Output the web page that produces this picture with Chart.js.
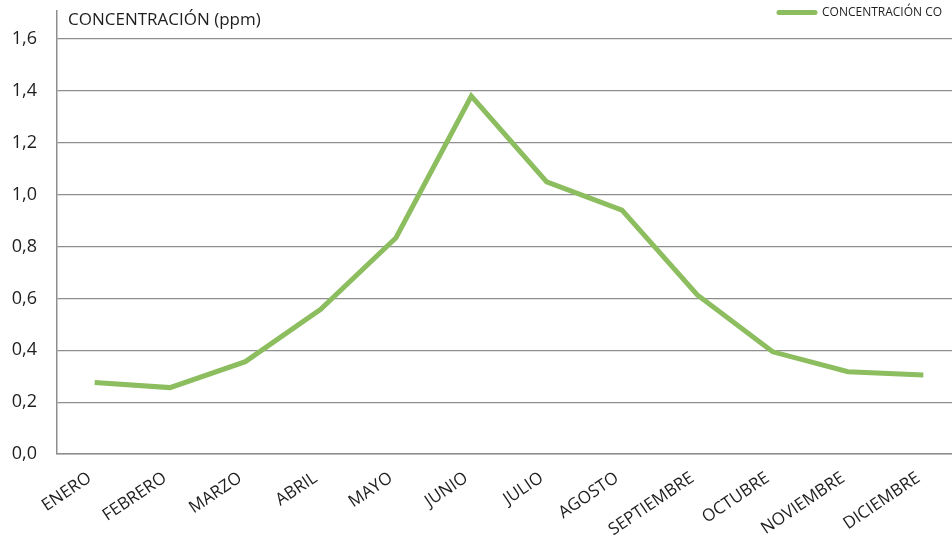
<!DOCTYPE html>
<html lang="es">
<head>
<meta charset="utf-8">
<title>Concentración de CO</title>
<script src="https://cdn.jsdelivr.net/npm/chart.js@4/dist/chart.umd.min.js"></script>
<style>
  html, body { margin: 0; padding: 0; background: #ffffff; overflow: hidden; }
  #wrap { position: relative; width: 952px; height: 547px; overflow: hidden; }
  #box { position: absolute; left: 0; top: 0; width: 961px; height: 547px; }
</style>
</head>
<body>
<div id="wrap"><div id="box"><canvas id="chart"></canvas></div></div>
<script>
// Meses
const months = ['ENERO', 'FEBRERO', 'MARZO', 'ABRIL', 'MAYO', 'JUNIO', 'JULIO',
  'AGOSTO', 'SEPTIEMBRE', 'OCTUBRE', 'NOVIEMBRE', 'DICIEMBRE'];
// Concentración media mensual de CO (ppm)
const coValues = [0.276, 0.256, 0.356, 0.558, 0.834, 1.38, 1.049, 0.94, 0.613, 0.394, 0.317, 0.305];
const seriesName = 'CONCENTRACIÓN CO';
const axisTitle = 'CONCENTRACIÓN (ppm)';
const yTickValues = [0, 0.2, 0.4, 0.6, 0.8, 1.0, 1.2, 1.4, 1.6];

const lineColor = '#8cbd5f';
const gridColor = '#8e8e8e';
const textColor = '#1e1e1e';
const font = '"Open Sans", "DejaVu Sans", sans-serif';

// Título del eje Y y leyenda dibujados sobre el lienzo
const annotations = {
  id: 'annotations',
  afterDraw(chart) {
    const ctx = chart.ctx;
    const area = chart.chartArea;
    ctx.save();
    ctx.fillStyle = textColor;
    ctx.font = '17px ' + font;
    ctx.textAlign = 'left';
    ctx.textBaseline = 'middle';
    ctx.fillText(axisTitle, area.left + 11, 20);

    ctx.strokeStyle = lineColor;
    ctx.lineWidth = 5;
    ctx.lineCap = 'round';
    ctx.beginPath();
    ctx.moveTo(779, 12.5);
    ctx.lineTo(815, 12.5);
    ctx.stroke();
    ctx.font = '12px ' + font;
    ctx.fillText(seriesName, 822, 13);
    ctx.restore();
  }
};

new Chart(document.getElementById('chart'), {
  type: 'line',
  data: {
    labels: months,
    datasets: [{
      label: seriesName,
      data: coValues,
      borderColor: lineColor,
      borderWidth: 5,
      pointRadius: 0,
      tension: 0,
      fill: false
    }]
  },
  options: {
    responsive: true,
    maintainAspectRatio: false,
    animation: false,
    layout: { padding: { top: 11, right: 0, bottom: 0, left: 0 } },
    plugins: { legend: { display: false }, tooltip: { enabled: false } },
    scales: {
      x: {
        offset: true,
        grid: { display: false, drawTicks: false },
        border: { display: true, color: gridColor, width: 1.5 },
        ticks: {
          color: textColor,
          font: { family: font, size: 17 },
          minRotation: 34,
          maxRotation: 34,
          padding: 14,
          labelOffset: -5,
          autoSkip: false
        },
        afterFit(scale) {
          scale.height = 93;
          scale.paddingLeft = 0;
          scale.paddingRight = 0;
        }
      },
      y: {
        min: 0,
        max: 1.708,
        grid: { color: gridColor, lineWidth: 1.2, drawTicks: false },
        border: { display: true, color: gridColor, width: 1.5 },
        ticks: {
          stepSize: 0.2,
          color: textColor,
          padding: 20,
          font: { family: font, size: 18 },
          callback: (v) => v.toFixed(1).replace('.', ',')
        },
        afterBuildTicks(scale) {
          scale.ticks = yTickValues.map(v => ({ value: v }));
        },
        afterFit(scale) {
          scale.width = 57;
          scale.paddingTop = 0;
          scale.paddingBottom = 0;
        }
      }
    }
  },
  plugins: [annotations]
});
</script>
</body>
</html>
